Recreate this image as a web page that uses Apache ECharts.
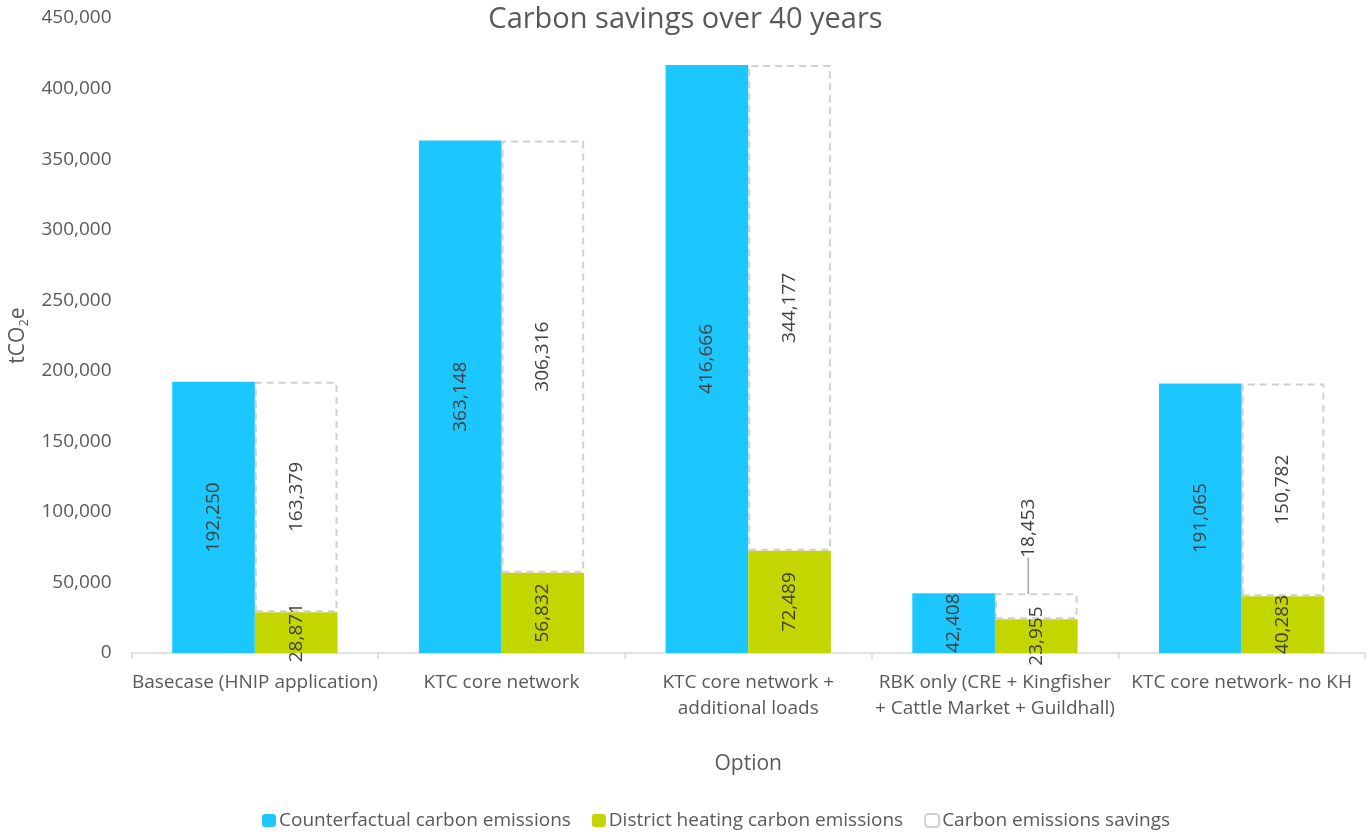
<!DOCTYPE html>
<html>
<head>
<meta charset="utf-8">
<script src="https://cdn.jsdelivr.net/npm/echarts@6/dist/echarts.min.js"></script>
<style>
html,body{margin:0;padding:0;background:#fff;}
#chart{width:1371px;height:832px;}
</style>
</head>
<body>
<div id="chart"></div>
<script>
const categories = [
  'Basecase (HNIP application)',
  'KTC core network',
  'KTC core network +\nadditional loads',
  'RBK only (CRE + Kingfisher\n+ Cattle Market + Guildhall)',
  'KTC core network- no KH'
];
const counterfactual = [192250, 363148, 416666, 42408, 191065];
const districtHeating = [28871, 56832, 72489, 23955, 40283];
const savings = [163379, 306316, 344177, 18453, 150782];
const yMin = 0, yMax = 450000, yStep = 50000;

const FONT = '"Open Sans", "Noto Sans", sans-serif';
const fmt = v => Number(v).toLocaleString('en-US');

const chart = echarts.init(document.getElementById('chart'));
const barLabel = {
  show: true,
  position: 'inside',
  rotate: 90,
  color: '#404040',
  fontFamily: FONT,
  fontSize: 19,
  formatter: p => fmt(p.value)
};
chart.setOption({
  backgroundColor: '#fff',
  textStyle: {fontFamily: FONT},
  title: {
    text: 'Carbon savings over 40 years',
    left: 'center',
    top: 0,
    textStyle: {fontFamily: FONT, fontSize: 29, fontWeight: 'normal', color: '#595959'}
  },
  legend: {
    top: 806,
    left: 257,
    itemWidth: 14,
    itemHeight: 13,
    itemGap: 21,
    textStyle: {fontFamily: FONT, fontSize: 19, color: '#595959', padding: [0,0,0,-2]},
    data: ['Counterfactual carbon emissions', 'District heating carbon emissions', 'Carbon emissions savings']
  },
  grid: {left: 130, right: 6, top: 18, bottom: 179, containLabel: false},
  xAxis: {
    type: 'category',
    data: categories,
    name: 'Option',
    nameLocation: 'middle',
    nameGap: 101,
    nameTextStyle: {fontFamily: FONT, fontSize: 21, color: '#595959'},
    axisLine: {lineStyle: {color: '#d9d9d9', width: 1.5}},
    axisTick: {show: true, length: 6, alignWithLabel: false, lineStyle: {color: '#d9d9d9', width: 1.5}},
    axisLabel: {fontFamily: FONT, fontSize: 19, color: '#595959', margin: 17, interval: 0, lineHeight: 26}
  },
  yAxis: {
    type: 'value',
    min: yMin, max: yMax, interval: yStep,
    name: 'tCO{sub|2}e',
    nameLocation: 'middle',
    nameRotate: 90,
    nameGap: 94,
    nameTextStyle: {
      fontFamily: FONT, fontSize: 21, color: '#595959',
      rich: {sub: {fontFamily: FONT, fontSize: 13, color: '#595959', padding: [11, 0, 0, 0]}}
    },
    axisLine: {show: false},
    axisTick: {show: false},
    splitLine: {show: false},
    axisLabel: {fontFamily: FONT, fontSize: 19, color: '#595959', margin: 20, formatter: v => fmt(v)}
  },
  series: [
    {
      name: 'Counterfactual carbon emissions',
      type: 'bar',
      data: counterfactual,
      barGap: '0%',
      barCategoryGap: '33%',
      itemStyle: {color: '#1CC7FF'},
      label: barLabel
    },
    {
      name: 'District heating carbon emissions',
      type: 'bar',
      stack: 'dh',
      data: districtHeating,
      itemStyle: {color: '#C4D600'},
      label: barLabel
    },
    {
      name: 'Carbon emissions savings',
      type: 'bar',
      stack: 'dh',
      data: savings,
      itemStyle: {color: 'rgba(255,255,255,0)', borderColor: '#d0d0d0', borderWidth: 2, borderType: [7, 5]},
      label: barLabel,
      labelLine: {show: true, lineStyle: {color: '#a6a6a6', width: 1.5}},
      labelLayout: function (p) {
        if (p.dataIndex === 3) return {dx: 78, dy: -8};
        return {};
      }
    }
  ]
});
</script>
</body>
</html>
